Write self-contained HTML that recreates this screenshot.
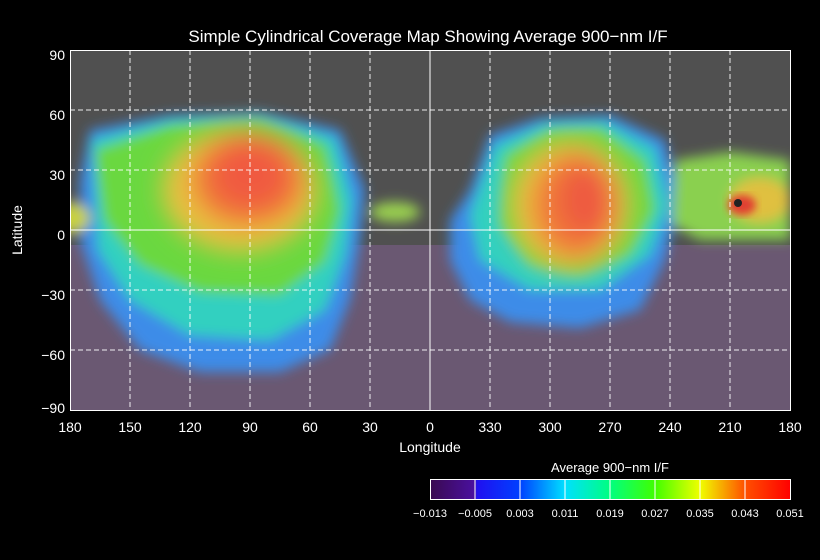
<!DOCTYPE html>
<html><head><meta charset="utf-8"><style>
body{margin:0;background:#000;}
svg{display:block;font-family:"Liberation Sans",sans-serif;}
</style></head><body>
<svg width="820" height="560" viewBox="0 0 820 560" xmlns="http://www.w3.org/2000/svg">
<defs>
<filter id="b8" x="-20%" y="-20%" width="140%" height="140%"><feGaussianBlur stdDeviation="6"/></filter>
<filter id="b4" x="-20%" y="-20%" width="140%" height="140%"><feGaussianBlur stdDeviation="4"/></filter>
<filter id="b14" x="-30%" y="-30%" width="160%" height="160%"><feGaussianBlur stdDeviation="12"/></filter>
<linearGradient id="cb" x1="0" x2="1">
<stop offset="0" stop-color="#3a0a50"/><stop offset="0.125" stop-color="#4a10a0"/>
<stop offset="0.13" stop-color="#2010f0"/><stop offset="0.25" stop-color="#0040ff"/>
<stop offset="0.375" stop-color="#00e0ff"/><stop offset="0.5" stop-color="#00ff80"/>
<stop offset="0.625" stop-color="#40ff00"/><stop offset="0.75" stop-color="#f0ff00"/>
<stop offset="0.875" stop-color="#ff5000"/><stop offset="1" stop-color="#ff0000"/>
</linearGradient>
<clipPath id="pc"><rect x="70" y="50" width="720" height="360"/></clipPath>
</defs>
<text x="428" y="42" fill="#fff" font-size="17" text-anchor="middle">Simple Cylindrical Coverage Map Showing Average 900−nm I/F</text>
<g clip-path="url(#pc)">
<rect x="70" y="50" width="720" height="200" fill="#505050"/>
<rect x="70" y="245" width="720" height="165" fill="#6a5872"/>
<!-- left blob -->
<g filter="url(#b8)">
<path d="M90,130 L170,115 L260,112 L340,130 L365,190 L360,240 L350,300 L330,350 L280,372 L200,372 L140,350 L100,300 L80,240 L80,180 Z" fill="#3c8ce8"/>
<path d="M92,140 L170,120 L260,116 L335,138 L352,200 L345,255 L325,310 L270,340 L190,335 L130,300 L98,250 Z" fill="#30d0c0"/>
<path d="M95,150 L170,125 L260,120 L325,145 L340,210 L325,262 L280,295 L200,292 L140,265 L104,220 Z" fill="#6ad840"/>
<ellipse cx="68" cy="218" rx="22" ry="16" fill="#c8d040"/>
<ellipse cx="395" cy="212" rx="25" ry="10" fill="#9ad050"/>
</g>
<g filter="url(#b14)">
<ellipse cx="240" cy="190" rx="78" ry="62" fill="#e8c040"/>
<ellipse cx="248" cy="180" rx="56" ry="46" fill="#f07838"/>
<ellipse cx="250" cy="175" rx="38" ry="33" fill="#f05a40"/>
</g>
<!-- right blob -->
<g filter="url(#b8)">
<path d="M490,135 L540,118 L610,115 L665,140 L680,200 L665,260 L640,310 L580,328 L510,322 L470,300 L450,260 L450,220 L470,190 Z" fill="#3c8ce8"/>
<path d="M495,145 L545,124 L605,122 L655,148 L668,205 L650,255 L600,290 L530,290 L480,260 L470,215 Z" fill="#30d0c0"/>
<path d="M505,155 L550,130 L600,128 L645,160 L655,210 L630,255 L580,275 L530,265 L500,225 Z" fill="#70d840"/>
<path d="M675,160 L730,152 L790,160 L790,240 L700,240 L672,225 Z" fill="#8ad050"/>
<ellipse cx="760" cy="200" rx="30" ry="22" fill="#e0c040"/>
</g>
<g filter="url(#b14)">
<ellipse cx="570" cy="205" rx="60" ry="65" fill="#e8c040"/>
<ellipse cx="575" cy="205" rx="42" ry="52" fill="#f07838"/>
<ellipse cx="585" cy="200" rx="25" ry="35" fill="#ee5a40"/>
</g>
<g filter="url(#b4)"><ellipse cx="742" cy="205" rx="14" ry="10" fill="#e04030"/></g>
<circle cx="738" cy="203" r="4" fill="#222"/>
</g>
<!-- grid -->
<g stroke="#fff" stroke-width="1" stroke-dasharray="5,3" opacity="0.9">
<line x1="130" y1="50" x2="130" y2="410"/><line x1="190" y1="50" x2="190" y2="410"/>
<line x1="250" y1="50" x2="250" y2="410"/><line x1="310" y1="50" x2="310" y2="410"/>
<line x1="370" y1="50" x2="370" y2="410"/><line x1="490" y1="50" x2="490" y2="410"/>
<line x1="550" y1="50" x2="550" y2="410"/><line x1="610" y1="50" x2="610" y2="410"/>
<line x1="670" y1="50" x2="670" y2="410"/><line x1="730" y1="50" x2="730" y2="410"/>
<line x1="70" y1="110" x2="790" y2="110"/><line x1="70" y1="170" x2="790" y2="170"/>
<line x1="70" y1="290" x2="790" y2="290"/><line x1="70" y1="350" x2="790" y2="350"/>
</g>
<line x1="430" y1="50" x2="430" y2="410" stroke="#fff"/>
<line x1="70" y1="230" x2="790" y2="230" stroke="#fff"/>
<rect x="70.5" y="50.5" width="720" height="360" fill="none" stroke="#fff"/>
<g fill="#fff" font-size="14" text-anchor="end">
<text x="65" y="60">90</text><text x="65" y="120">60</text><text x="65" y="180">30</text>
<text x="65" y="240">0</text><text x="65" y="300">−30</text><text x="65" y="360">−60</text><text x="65" y="413">−90</text>
</g>
<g fill="#fff" font-size="14" text-anchor="middle">
<text x="70" y="432">180</text><text x="130" y="432">150</text><text x="190" y="432">120</text>
<text x="250" y="432">90</text><text x="310" y="432">60</text><text x="370" y="432">30</text>
<text x="430" y="432">0</text><text x="490" y="432">330</text><text x="550" y="432">300</text>
<text x="610" y="432">270</text><text x="670" y="432">240</text><text x="730" y="432">210</text>
<text x="790" y="432">180</text>
<text x="430" y="452">Longitude</text>
<text x="22" y="230" transform="rotate(-90 22 230)">Latitude</text>
<text x="610" y="472" font-size="13">Average 900−nm I/F</text>
</g>
<rect x="430" y="479" width="360" height="20" fill="url(#cb)"/>
<g stroke="#fff" stroke-width="1">
<line x1="475" y1="479" x2="475" y2="499"/><line x1="520" y1="479" x2="520" y2="499"/>
<line x1="565" y1="479" x2="565" y2="499"/><line x1="610" y1="479" x2="610" y2="499"/>
<line x1="655" y1="479" x2="655" y2="499"/><line x1="700" y1="479" x2="700" y2="499"/>
<line x1="745" y1="479" x2="745" y2="499"/>
</g>
<rect x="430.5" y="479.5" width="360" height="20" fill="none" stroke="#fff"/>
<g fill="#fff" font-size="11" text-anchor="middle">
<text x="430" y="517">−0.013</text><text x="475" y="517">−0.005</text><text x="520" y="517">0.003</text>
<text x="565" y="517">0.011</text><text x="610" y="517">0.019</text><text x="655" y="517">0.027</text>
<text x="700" y="517">0.035</text><text x="745" y="517">0.043</text><text x="790" y="517">0.051</text>
</g>
</svg>
</body></html>
